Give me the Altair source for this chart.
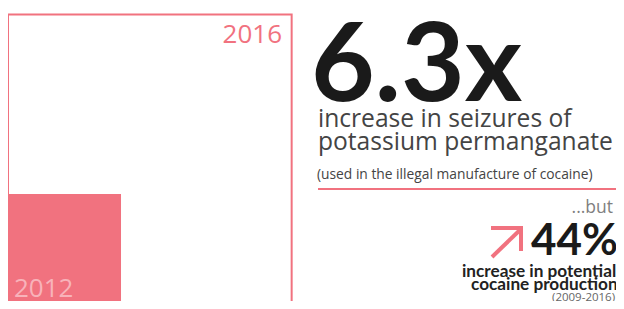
import altair as alt
import pandas as pd

# Data
years = ["2012", "2016"]
seizures_rel = [1.0, 6.3]          # relative seizures of potassium permanganate
PINK = "#F1727F"
LIGHT_PINK = "#F8B3BA"

squares = pd.DataFrame({"year": years, "value": seizures_rel})

W, H = 608, 293
xs = alt.Scale(domain=[0, 5.38], nice=False, zero=False)
ys = alt.Scale(domain=[0.101, 2.565], nice=False, zero=False)

base = alt.Chart(squares).transform_calculate(
    x0="0", side="sqrt(datum.value)"
)

outline = base.transform_filter(alt.datum.year == "2016").mark_rect(
    filled=False, stroke=PINK, strokeWidth=2
).encode(
    x=alt.X("x0:Q", scale=xs, axis=None),
    x2="side:Q",
    y=alt.Y("x0:Q", scale=ys, axis=None),
    y2="side:Q",
)

filled = base.transform_filter(alt.datum.year == "2012").mark_rect(
    color=PINK
).encode(
    x=alt.X("x0:Q", scale=xs, axis=None),
    x2="side:Q",
    y=alt.Y("x0:Q", scale=ys, axis=None),
    y2="side:Q",
)

dummy = pd.DataFrame({"a": [0]})
REG = "Open Sans"
BOLD = "Lato"


def txt(text, x, y, size, color, weight="normal", align="left", font=REG):
    return alt.Chart(dummy).mark_text(
        text=text, font=font, fontSize=size, color=color, fontWeight=weight,
        align=align, baseline="alphabetic"
    ).encode(x=alt.value(x), y=alt.value(y))


def seg(x1, y1, x2, y2, width, color):
    return alt.Chart(dummy).mark_rule(
        color=color, strokeWidth=width, strokeCap="butt"
    ).encode(x=alt.value(x1), y=alt.value(y1), x2=alt.value(x2), y2=alt.value(y2))


layers = [
    outline,
    filled,
    txt(years[1], 274, 35, 26, PINK, align="right"),
    txt(years[0], 6, 289, 26, LIGHT_PINK),
    txt("6.3x", 303, 93, 110, "#1a1a1a", weight="bold", font=BOLD),
    txt("increase in seizures of", 310, 119, 24.6, "#444444"),
    txt("potassium permanganate", 310, 142, 24.6, "#444444"),
    txt("(used in the illegal manufacture of cocaine)", 309, 171, 13.8, "#444444"),
    seg(310, 181, 608, 181, 2, PINK),
    txt("...but", 605, 205, 17.5, "#808080", align="right"),
    seg(484, 249, 513, 221, 4, PINK),
    seg(483, 220, 515, 220, 4, PINK),
    seg(513, 218, 513, 243, 4, PINK),
    txt("44%", 523, 247, 44, "#1a1a1a", weight="bold", font=BOLD),
    txt("increase in potential", 454, 269, 17.2, "#222222", weight="bold", font=BOLD),
    txt("cocaine production", 463, 282, 17.2, "#222222", weight="bold", font=BOLD),
    txt("(2009-2016)", 544, 293, 11.5, "#666666"),
]

chart = alt.layer(*layers).properties(
    width=W, height=H, autosize=alt.AutoSizeParams(type="none"), padding=0
).configure_view(stroke=None)

chart.save("out.html", embed_options={"renderer": "svg", "actions": False})
